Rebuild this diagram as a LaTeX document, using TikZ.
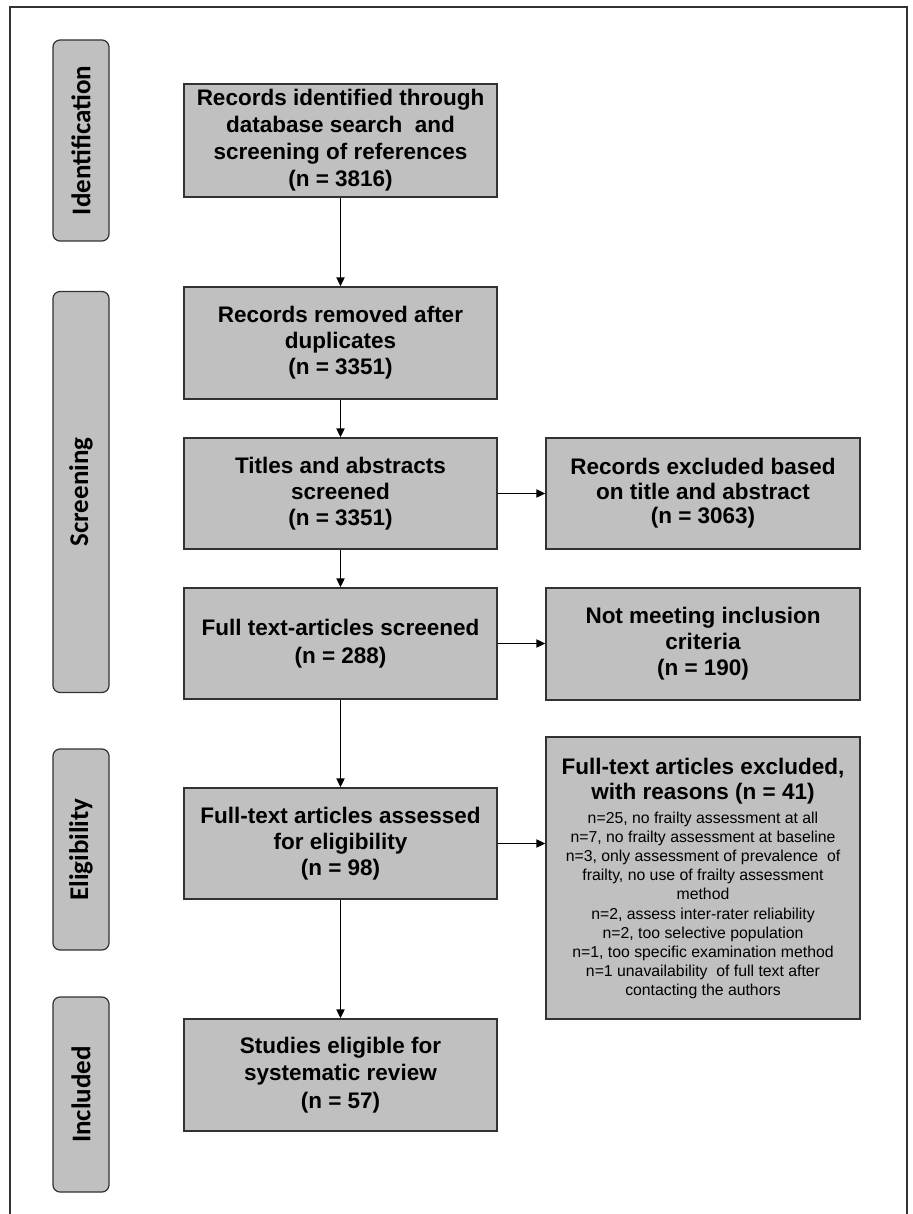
\documentclass[tikz,border=0pt]{standalone}
\usepackage{fontspec}
\setmainfont{Liberation Sans}
\newfontfamily\labelfont{Carlito}
\usetikzlibrary{arrows.meta}
\definecolor{boxfill}{RGB}{192,192,192}
\definecolor{boxline}{RGB}{50,50,50}
\begin{document}
\begin{tikzpicture}[x=1pt,y=-1pt,
 box/.style={draw=boxline, line width=1.3pt, fill=boxfill, align=center, inner sep=0pt,
   minimum width=313pt, font=\fontsize{22.5}{26}\selectfont\bfseries},
 side/.style={box, minimum width=314pt},
 phase/.style={draw=boxline, line width=1.2pt, fill=boxfill, rounded corners=7pt,
   minimum width=56pt, inner sep=0pt},
 phasetext/.style={rotate=90, inner sep=0pt, font=\labelfont\fontsize{27}{30}\selectfont\bfseries},
 heading/.style={align=center, inner sep=0pt, font=\fontsize{22.5}{25.4}\selectfont\bfseries},
 reasons/.style={align=center, inner sep=0pt, font=\fontsize{15.8}{19.2}\selectfont},
 arr/.style={-{Triangle[length=9pt,width=8pt]}, line width=1.9pt, black}]
\useasboundingbox (0,0) rectangle (912,1214);
\fill[white] (0,0) rectangle (912,1214);
\draw[line width=1.3pt, boxline] (10,1214) -- (10,7) -- (907,7) -- (907,1214);

% phase labels
\node[phase, minimum height=201pt] (l1) at (81,140.5) {};
\node[phasetext] (t1) at (l1) {Identification};
\node[phase, minimum height=401pt] (l2) at (81,492) {};
\node[phasetext] (t2) at (l2) {Screening};
\node[phase, minimum height=201pt] (l3) at (81,849.5) {};
\node[phasetext] (t3) at (l3) {Eligibility};
\node[phase, minimum height=195pt] (l4) at (81,1094.5) {};
\node[phasetext] (t4) at (l4) {Included};

% main column
\node[box, minimum height=113pt, font=\fontsize{22.5}{27}\selectfont\bfseries] (b1) at (340.5,140.5)
  {Records identified through\\database search \ and\\screening of references\\(n = 3816)};
\node[box, minimum height=112pt] (b2) at (340.5,343) {Records removed after\\duplicates\\(n = 3351)};
\node[box, minimum height=111pt] (b3) at (340.5,493.5) {Titles and abstracts\\screened\\(n = 3351)};
\node[box, minimum height=111pt, font=\fontsize{22.5}{28}\selectfont\bfseries] (b4) at (340.5,643.5) {Full text-articles screened\\(n = 288)};
\node[box, minimum height=111pt] (b5) at (340.5,843.5) {Full-text articles assessed\\for eligibility\\(n = 98)};
\node[box, minimum height=112pt, font=\fontsize{22.5}{27.5}\selectfont\bfseries] (b6) at (340.5,1075) {Studies eligible for\\systematic review\\(n = 57)};

% side column
\node[side, minimum height=111pt, font=\fontsize{22.5}{24.5}\selectfont\bfseries] (r1) at (703,493.5) {Records excluded based\\on title and abstract\\(n = 3063)};
\node[side, minimum height=112pt] (r2) at (703,644) {Not meeting inclusion\\criteria\\(n = 190)};
\node[side, minimum height=282pt] (r3) at (703,878) {};
\node[heading] (h3) at (703,781.3) {Full-text articles excluded,\\with reasons (n = 41)};
\node[reasons] (x3) at (703,905.5) {n=25, no frailty assessment at all\\
n=7, no frailty assessment at baseline\\
n=3, only assessment of prevalence \ of\\
frailty, no use of frailty assessment\\
method\\
n=2, assess inter-rater reliability\\
n=2, too selective population\\
n=1, too specific examination method\\
n=1 unavailability \ of full text after\\
contacting the authors};

% connectors
\draw[arr] (b1.south) -- (b2.north);
\draw[arr] (b2.south) -- (b3.north);
\draw[arr] (b3.south) -- (b4.north);
\draw[arr] (b4.south) -- (b5.north);
\draw[arr] (b5.south) -- (b6.north);
\draw[arr] (b3.east) -- (b3.east -| r1.west);
\draw[arr] (b4.east) -- (b4.east -| r2.west);
\draw[arr] (b5.east) -- (b5.east -| r3.west);
\end{tikzpicture}
\end{document}
